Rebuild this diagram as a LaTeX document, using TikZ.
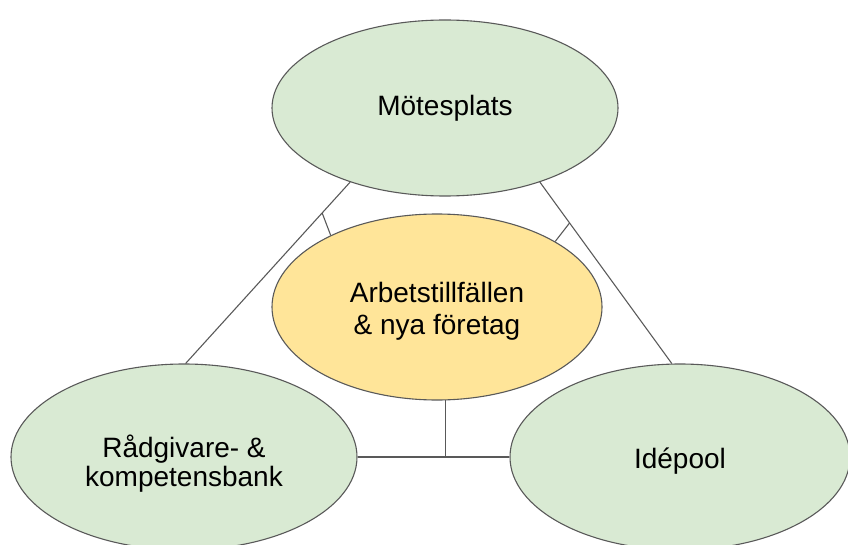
\documentclass[tikz,border=0pt]{standalone}
\usepackage{fontspec}
\setmainfont{Liberation Sans}
\usetikzlibrary{shapes.geometric,calc}
\definecolor{gfill}{HTML}{D9EAD3}
\definecolor{yfill}{HTML}{FFE599}
\definecolor{edge}{HTML}{595959}
\begin{document}
\begin{tikzpicture}[x=1pt,y=-1pt,
  bubble/.style={ellipse,draw=edge,line width=1.1pt,inner sep=0pt},
  label text/.style={inner sep=0pt,align=center,font=\fontsize{28}{#1}\selectfont},
  label text/.default=32,
  link/.style={draw=edge,line width=1.1pt}]
\useasboundingbox (0,0) rectangle (848,545);
\clip (0,0) rectangle (848,545);
\node[bubble,fill=gfill,minimum width=346pt,minimum height=176pt] (top) at (445,108) {};
\node[bubble,fill=yfill,minimum width=330pt,minimum height=186pt] (mid) at (437,307) {};
\node[bubble,fill=gfill,minimum width=346pt,minimum height=186pt] (left) at (184,457) {};
\node[bubble,fill=gfill,minimum width=340pt,minimum height=186pt] (right) at (680,457) {};
\node[label text] (topT) at (445,108) {Mötesplats};
\node[label text=32] (midT) at (437,311) {Arbetstillfällen\\\& nya företag};
\node[label text=29] (leftT) at (184,464) {Rådgivare- \&\\kompetensbank};
\node[label text] (rightT) at (680,461) {Idépool};
\coordinate (tl) at (top.218);
\coordinate (lt) at (left.89);
\coordinate (tr) at (top.322.6);
\coordinate (rt) at (right.95);
\draw[link] (tl) -- (lt);
\draw[link] (tr) -- (rt);
\draw[link] (left.east) -- (right.west);
\coordinate (pl) at ($(tl)!0.17!(lt)$);
\coordinate (pr) at ($(tr)!0.225!(rt)$);
\coordinate (pb) at (mid.275 |- left.east);
\draw[link] (mid.146) -- (pl);
\draw[link] (mid.29) -- (pr);
\draw[link] (mid.275) -- (pb);
\end{tikzpicture}
\end{document}
